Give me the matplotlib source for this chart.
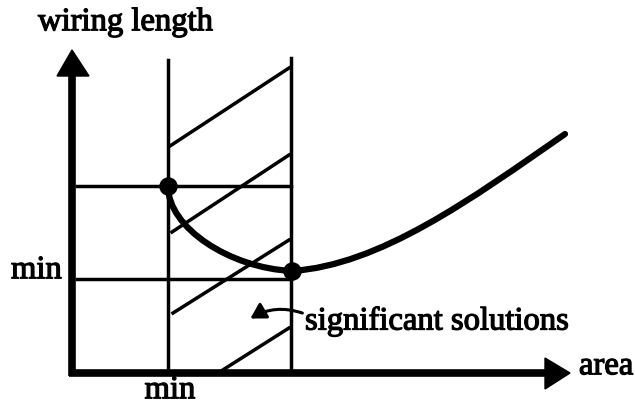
import matplotlib
matplotlib.use("Agg")
import matplotlib.pyplot as plt
import matplotlib.patheffects as pe
from matplotlib.patches import FancyArrowPatch, PathPatch
from matplotlib.path import Path

# Schematic coordinates (pixel-like units, y grows downward)
# curve as two cubic Bezier segments (control points)
curve_x = [168, 168, 230, 292, 380, 470, 565]
curve_y = [186, 228, 268, 271, 265, 200, 134]
dot_x = [168, 292]
dot_y = [186, 271]
vline_x = [168, 291]
vline_top = [60, 58]
hline_y = [186, 279]
hatch_x0 = [170, 172, 173, 218]
hatch_y0 = [146, 232, 313, 373]
hatch_x1 = [289, 289, 289, 289]
hatch_y1 = [68, 155, 240, 328]

fig = plt.figure(figsize=(6.35, 4.04), dpi=100)
ax = fig.add_axes([0, 0, 1, 1])
ax.set_xlim(0, 635)
ax.set_ylim(404, 0)
ax.axis("off")

font = dict(family="Liberation Serif", color="black", fontsize=23.5,
            path_effects=[pe.withStroke(linewidth=0.9, foreground="black")])

# axes arrows
ax.plot([72, 72], [376, 72], color="black", lw=5.5, solid_capstyle="butt")
ax.fill([57, 72, 89], [76, 50, 76], color="black")
ax.plot([69, 548], [373, 373], color="black", lw=5.5, solid_capstyle="butt")
ax.fill([545, 570, 545], [358, 373, 389], color="black")

# vertical bounds
for x, top in zip(vline_x, vline_top):
    ax.plot([x, x], [top, 373], color="black", lw=2.5)
# horizontal lines
for y in hline_y:
    ax.plot([77, 291], [y, y], color="black", lw=2.5)
# hatch
for x0, y0, x1, y1 in zip(hatch_x0, hatch_y0, hatch_x1, hatch_y1):
    ax.plot([x0, x1], [y0, y1], color="black", lw=2.5)

# curve
verts = list(zip(curve_x, curve_y))
codes = [Path.MOVETO] + [Path.CURVE4] * 6
ax.add_patch(PathPatch(Path(verts, codes), facecolor="none", edgecolor="black",
                       lw=4.5, capstyle="round"))
ax.scatter(dot_x, dot_y, s=150, color="black", zorder=5)

# texts
ax.text(38, 22, "wiring length", ha="left", va="center", **font)
ax.text(11, 270, "min", ha="left", va="center", **font)
ax.text(170, 390, "min", ha="center", va="center", **font)
ax.text(579, 366, "area", ha="left", va="center", **font)
ax.text(305, 321, "significant solutions", ha="left", va="center", **font)

arr = FancyArrowPatch((305, 314), (248, 320), connectionstyle="arc3,rad=0.25",
                      arrowstyle="-|>,head_length=6,head_width=3.5",
                      color="black", lw=2.2, mutation_scale=1.5)
ax.add_patch(arr)

fig.savefig("out.png", dpi=100)
